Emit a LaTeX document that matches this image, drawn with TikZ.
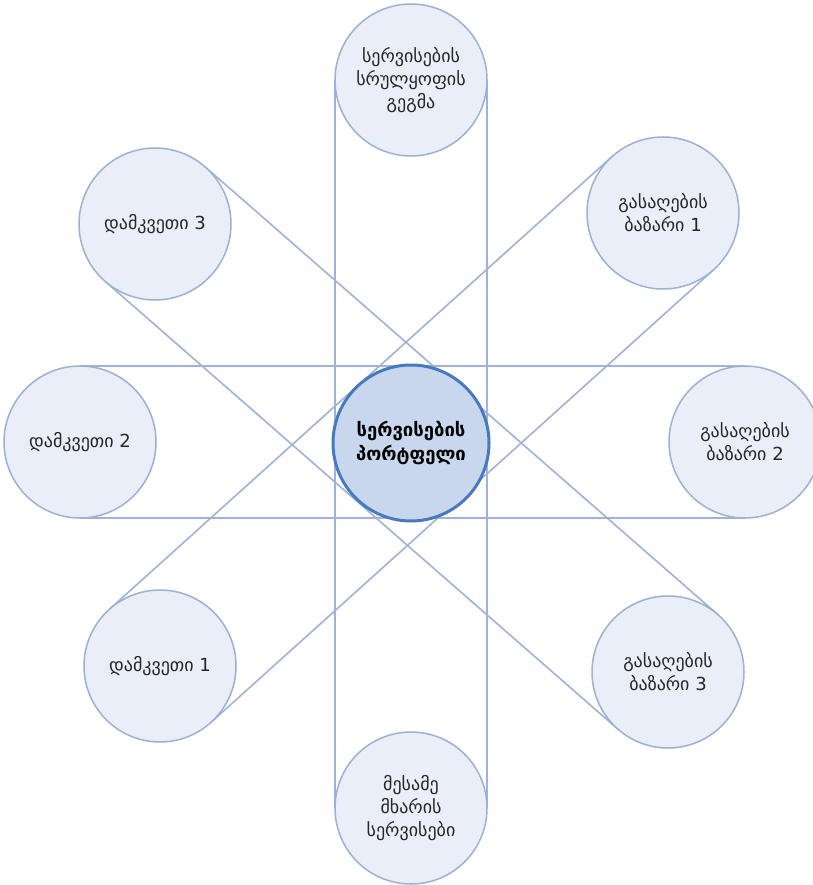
\documentclass[tikz,border=0pt]{standalone}
\usepackage{fontspec}
\setmainfont{DejaVu Sans}
\usetikzlibrary{calc,backgrounds}

\definecolor{bandline}{RGB}{160,178,215}
\definecolor{outerfill}{RGB}{233,238,248}
\definecolor{outerdraw}{RGB}{158,176,212}
\definecolor{hubfill}{RGB}{200,215,238}
\definecolor{hubdraw}{RGB}{74,122,190}

\tikzset{
  outer/.style={circle, draw=outerdraw, line width=1.5pt, fill=outerfill,
    minimum size=152pt, inner sep=0pt, align=center,
    font=\fontsize{18}{23}\selectfont, text=black!85},
  hub/.style={circle, draw=hubdraw, line width=3pt, fill=hubfill,
    minimum size=156pt, inner sep=0pt, align=center,
    font=\bfseries\fontsize{18.5}{24}\selectfont, text=black},
  band/.style={draw=bandline, line width=1.6pt}
}

\begin{document}
\begin{tikzpicture}[x=1pt,y=-1pt]
  \useasboundingbox (0,0) rectangle (812,885);

  % outer ring of circles
  \node[outer] (T)  at (411,80)  {სერვისების\\სრულყოფის\\გეგმა};
  \node[outer] (TR) at (663,213) {გასაღების\\ბაზარი 1};
  \node[outer] (R)  at (745,442) {გასაღების\\ბაზარი 2};
  \node[outer] (BR) at (668,672) {გასაღების\\ბაზარი 3};
  \node[outer] (B)  at (411,808) {მესამე\\მხარის\\სერვისები};
  \node[outer] (BL) at (160,666) {დამკვეთი 1};
  \node[outer] (L)  at (80,442)  {დამკვეთი 2};
  \node[outer] (TL) at (155,224) {დამკვეთი 3};

  % central hub
  \node[hub] (C) at (411,443) {სერვისების\\პორტფელი};

  % tangent bands joining opposite circles
  \begin{scope}[on background layer]
    \foreach \a/\b in {T/B, L/R, TL/BR, TR/BL} {
      \draw[band] ($(\a.center)!76pt!90:(\b.center)$) -- ($(\b.center)!76pt!-90:(\a.center)$);
      \draw[band] ($(\a.center)!76pt!-90:(\b.center)$) -- ($(\b.center)!76pt!90:(\a.center)$);
    }
  \end{scope}
\end{tikzpicture}
\end{document}
